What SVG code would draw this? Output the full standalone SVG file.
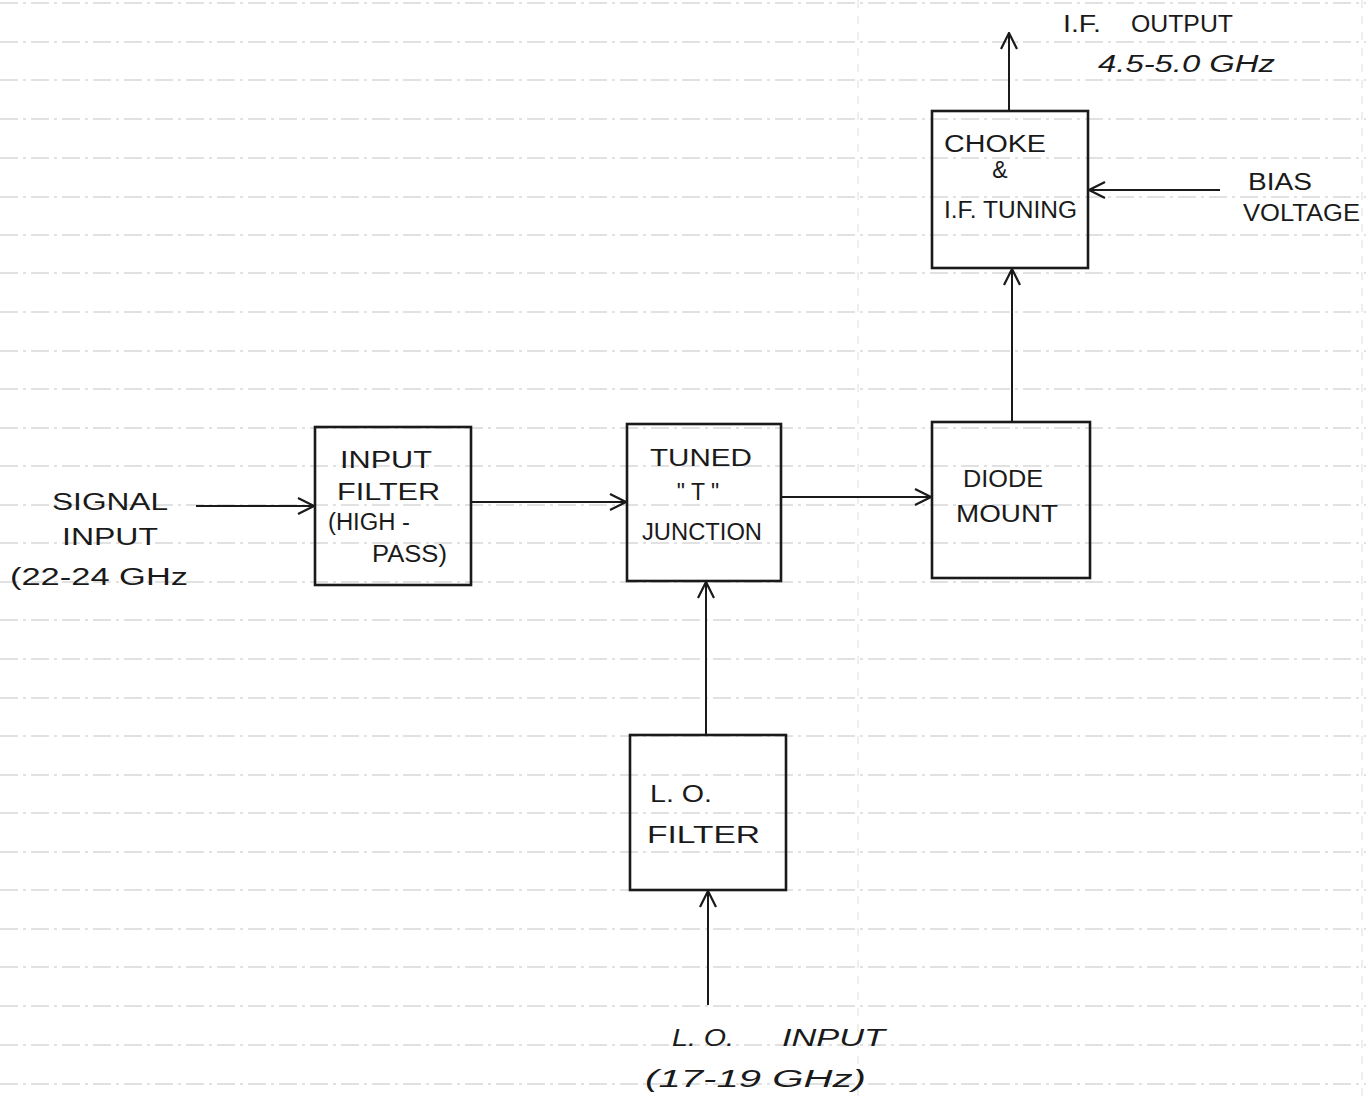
<svg xmlns="http://www.w3.org/2000/svg" width="1366" height="1097" viewBox="0 0 1366 1097">
<defs>
<marker id="arr" viewBox="0 0 20 20" refX="19" refY="10" markerWidth="20" markerHeight="20" markerUnits="userSpaceOnUse" orient="auto">
<path d="M3,2 L19,10 L3,18" fill="none" stroke="#1a1a1a" stroke-width="2.2"/>
</marker>
</defs>
<style>
.rule{stroke:#c4c4c4;stroke-width:1.1;stroke-dasharray:18 5 3 5}
.vrule{stroke:#dedede;stroke-width:1;stroke-dasharray:8 8}
.box{fill:none;stroke:#1a1a1a;stroke-width:2.6}
.conn{fill:none;stroke:#1a1a1a;stroke-width:2;marker-end:url(#arr)}
text{font-family:"Liberation Sans",Arial,sans-serif;font-size:23px;fill:#1a1a1a}
.it{font-style:italic}
</style>
<rect width="1366" height="1097" fill="#ffffff"/>
<g id="paper">
<line class="rule" x1="0" y1="3" x2="1366" y2="3"/>
<line class="rule" x1="0" y1="42" x2="1366" y2="42"/>
<line class="rule" x1="0" y1="80" x2="1366" y2="80"/>
<line class="rule" x1="0" y1="119" x2="1366" y2="119"/>
<line class="rule" x1="0" y1="158" x2="1366" y2="158"/>
<line class="rule" x1="0" y1="197" x2="1366" y2="197"/>
<line class="rule" x1="0" y1="235" x2="1366" y2="235"/>
<line class="rule" x1="0" y1="273" x2="1366" y2="273"/>
<line class="rule" x1="0" y1="312" x2="1366" y2="312"/>
<line class="rule" x1="0" y1="351" x2="1366" y2="351"/>
<line class="rule" x1="0" y1="389" x2="1366" y2="389"/>
<line class="rule" x1="0" y1="428" x2="1366" y2="428"/>
<line class="rule" x1="0" y1="466" x2="1366" y2="466"/>
<line class="rule" x1="0" y1="505" x2="1366" y2="505"/>
<line class="rule" x1="0" y1="543" x2="1366" y2="543"/>
<line class="rule" x1="0" y1="582" x2="1366" y2="582"/>
<line class="rule" x1="0" y1="620" x2="1366" y2="620"/>
<line class="rule" x1="0" y1="659" x2="1366" y2="659"/>
<line class="rule" x1="0" y1="698" x2="1366" y2="698"/>
<line class="rule" x1="0" y1="736" x2="1366" y2="736"/>
<line class="rule" x1="0" y1="775" x2="1366" y2="775"/>
<line class="rule" x1="0" y1="813" x2="1366" y2="813"/>
<line class="rule" x1="0" y1="852" x2="1366" y2="852"/>
<line class="rule" x1="0" y1="890" x2="1366" y2="890"/>
<line class="rule" x1="0" y1="929" x2="1366" y2="929"/>
<line class="rule" x1="0" y1="967" x2="1366" y2="967"/>
<line class="rule" x1="0" y1="1006" x2="1366" y2="1006"/>
<line class="rule" x1="0" y1="1045" x2="1366" y2="1045"/>
<line class="rule" x1="0" y1="1084" x2="1366" y2="1084"/>
<line class="vrule" x1="858" y1="0" x2="858" y2="1097"/>
<line class="vrule" x1="1362" y1="0" x2="1362" y2="1097"/>
</g>
<g id="connectors">
<line class="conn" x1="196" y1="506" x2="314" y2="506"/>
<line class="conn" x1="471" y1="502" x2="626" y2="502"/>
<line class="conn" x1="781" y1="497" x2="931" y2="497"/>
<line class="conn" x1="1012" y1="422" x2="1012" y2="269"/>
<line class="conn" x1="1009" y1="111" x2="1009" y2="33"/>
<line class="conn" x1="1220" y1="190" x2="1089" y2="190"/>
<line class="conn" x1="706" y1="735" x2="706" y2="582"/>
<line class="conn" x1="708" y1="1005" x2="708" y2="891"/>
</g>
<g id="signal-input">
<text x="52" y="510" textLength="116" lengthAdjust="spacingAndGlyphs">SIGNAL</text>
<text x="62" y="545" textLength="96" lengthAdjust="spacingAndGlyphs">INPUT</text>
<text x="10" y="585" textLength="178" lengthAdjust="spacingAndGlyphs">(22-24 GHz</text>
</g>
<g id="input-filter">
<rect class="box" x="315" y="427" width="156" height="158"/>
<text x="340" y="468" textLength="92" lengthAdjust="spacingAndGlyphs">INPUT</text>
<text x="337" y="500" textLength="103" lengthAdjust="spacingAndGlyphs">FILTER</text>
<text x="328" y="530" textLength="82" lengthAdjust="spacingAndGlyphs">(HIGH -</text>
<text x="372" y="562" textLength="75" lengthAdjust="spacingAndGlyphs">PASS)</text>
</g>
<g id="tuned-t-junction">
<rect class="box" x="627" y="424" width="154" height="157"/>
<text x="650" y="466" textLength="102" lengthAdjust="spacingAndGlyphs">TUNED</text>
<text x="698" y="500" text-anchor="middle">" T "</text>
<text x="642" y="540" textLength="120" lengthAdjust="spacingAndGlyphs">JUNCTION</text>
</g>
<g id="diode-mount">
<rect class="box" x="932" y="422" width="158" height="156"/>
<text x="963" y="487" textLength="80" lengthAdjust="spacingAndGlyphs">DIODE</text>
<text x="956" y="522" textLength="102" lengthAdjust="spacingAndGlyphs">MOUNT</text>
</g>
<g id="choke-if-tuning">
<rect class="box" x="932" y="111" width="156" height="157"/>
<text x="944" y="152" textLength="102" lengthAdjust="spacingAndGlyphs">CHOKE</text>
<text x="1000" y="178" text-anchor="middle" font-size="18">&amp;</text>
<text x="944" y="218" textLength="133" lengthAdjust="spacingAndGlyphs">I.F. TUNING</text>
</g>
<g id="if-output">
<text x="1063" y="32" textLength="38" lengthAdjust="spacingAndGlyphs">I.F.</text>
<text x="1131" y="32" textLength="102" lengthAdjust="spacingAndGlyphs">OUTPUT</text>
<text class="it" x="1098" y="72" textLength="177" lengthAdjust="spacingAndGlyphs">4.5-5.0 GHz</text>
</g>
<g id="bias-voltage">
<text x="1248" y="190" textLength="64" lengthAdjust="spacingAndGlyphs">BIAS</text>
<text x="1243" y="221" textLength="117" lengthAdjust="spacingAndGlyphs">VOLTAGE</text>
</g>
<g id="lo-filter">
<rect class="box" x="630" y="735" width="156" height="155"/>
<text x="650" y="802" textLength="62" lengthAdjust="spacingAndGlyphs">L. O.</text>
<text x="647" y="843" textLength="113" lengthAdjust="spacingAndGlyphs">FILTER</text>
</g>
<g id="lo-input">
<text class="it" x="672" y="1046" textLength="62" lengthAdjust="spacingAndGlyphs">L. O.</text>
<text class="it" x="782" y="1046" textLength="103" lengthAdjust="spacingAndGlyphs">INPUT</text>
<text class="it" x="645" y="1087" textLength="221" lengthAdjust="spacingAndGlyphs">(17-19 GHz)</text>
</g>
</svg>
